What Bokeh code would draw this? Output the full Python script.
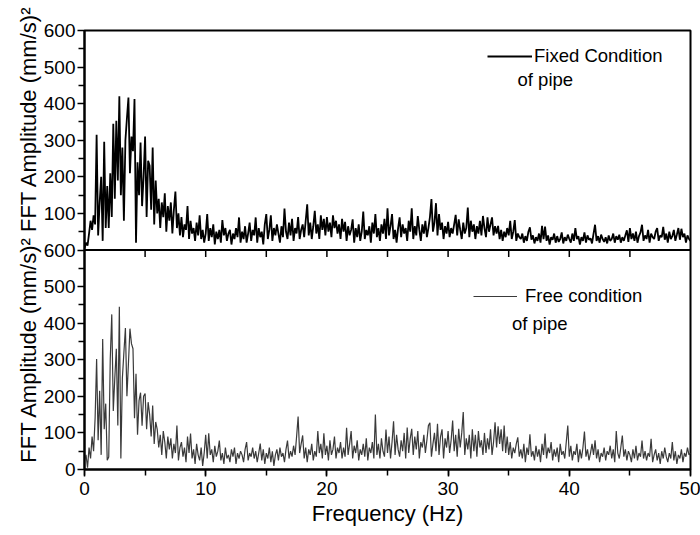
import math
from bokeh.plotting import figure
from bokeh.models import (Range1d, FixedTicker, SingleIntervalTicker, Label, Legend,
                          LegendItem, Span)
from bokeh.embed import file_html
from bokeh.resources import INLINE

# ---------------- data ----------------
FREQ_STEP = 0.125  # Hz between FFT bins

# FFT amplitude, fixed condition of pipe (one row = 1 Hz)
fixed_amp = [
    5, 20, 12, 45, 80, 55, 95, 70,
    315, 40, 130, 200, 25, 296, 60, 175,
    60, 210, 90, 345, 140, 353, 190, 420,
    150, 280, 80, 300, 360, 417, 210, 310,
    270, 413, 20, 240, 150, 294, 120, 200,
    310, 90, 244, 230, 110, 280, 70, 190,
    100, 140, 60, 130, 90, 155, 50, 120,
    80, 130, 45, 110, 160, 60, 100, 40,
    90, 35, 70, 55, 120, 30, 80, 45,
    60, 25, 75, 40, 95, 30, 55, 20,
    45, 98, 25, 60, 35, 70, 15, 50,
    30, 55, 20, 82, 40, 60, 25, 45,
    55, 15, 45, 30, 60, 35, 89, 20,
    50, 30, 65, 20, 45, 75, 25, 55,
    40, 89, 20, 60, 35, 50, 15, 70,
    98, 30, 55, 95, 25, 60, 40, 70,
    45, 20, 65, 35, 113, 50, 30, 75,
    40, 85, 25, 60, 45, 90, 30, 55,
    70, 35, 80, 125, 40, 75, 30, 65,
    107, 45, 70, 30, 95, 55, 85, 40,
    90, 50, 75, 35, 95, 60, 80, 45,
    70, 30, 85, 50, 77, 25, 65, 40,
    55, 84, 20, 60, 35, 70, 25, 50,
    105, 30, 55, 40, 65, 20, 75, 45,
    98, 35, 60, 25, 70, 45, 85, 30,
    114, 40, 65, 98, 30, 55, 20, 60,
    89, 35, 70, 45, 60, 25, 80, 50,
    114, 30, 65, 40, 93, 55, 25, 70,
    45, 80, 35, 60, 90, 139, 50, 75,
    128, 40, 98, 55, 75, 30, 65, 45,
    77, 35, 60, 45, 70, 96, 40, 84,
    55, 30, 75, 45, 60, 116, 35, 80,
    50, 70, 30, 65, 45, 80, 40, 93,
    60, 35, 89, 50, 70, 89, 40, 65,
    45, 66, 30, 55, 25, 50, 35, 60,
    40, 80, 30, 50, 82, 25, 45, 35,
    30, 45, 20, 38, 25, 50, 62, 28,
    40, 18, 35, 25, 45, 20, 66, 30,
    64, 25, 40, 15, 35, 28, 45, 20,
    38, 22, 30, 48, 18, 35, 25, 42,
    30, 20, 45, 25, 60, 30, 38, 15,
    35, 25, 48, 20, 40, 28, 32, 18,
    45, 69, 25, 38, 20, 42, 30, 22,
    35, 18, 40, 25, 30, 45, 20, 38,
    28, 42, 20, 35, 25, 40, 54, 22,
    60, 30, 45, 25, 50, 20, 38, 48,
    69, 25, 40, 30, 55, 20, 45, 35,
    30, 50, 60, 25, 40, 35, 63, 28,
    45, 20, 50, 30, 38, 55, 25, 42,
    60, 28, 58, 35, 45, 20, 40, 30,
    25,
]

# FFT amplitude, free condition of pipe (one row = 1 Hz)
free_amp = [
    25, 40, 5, 60, 30, 90, 50, 140,
    302, 80, 215, 40, 357, 110, 180, 25,
    34, 302, 424, 160, 250, 330, 120, 445,
    30, 250, 320, 387, 200, 290, 385, 344,
    330, 140, 262, 95, 188, 210, 120, 200,
    208, 110, 184, 150, 90, 175, 70, 130,
    110, 60, 95, 40, 105, 75, 30, 90,
    55, 85, 30, 70, 45, 120, 25, 60,
    75, 35, 60, 20, 90, 45, 98, 30,
    55, 15, 70, 40, 25, 60, 10, 45,
    95, 30, 99, 40, 55, 20, 65, 35,
    50, 79, 25, 45, 15, 60, 30, 40,
    20, 55, 35, 60, 15, 45, 30, 50,
    40, 20, 55, 75, 25, 45, 35, 60,
    30, 50, 20, 45, 71, 25, 55, 15,
    45, 30, 60, 20, 50, 10, 40, 55,
    25, 60, 35, 45, 20, 55, 79, 30,
    50, 35, 65, 40, 90, 145, 45, 70,
    93, 30, 60, 20, 55, 40, 70, 25,
    50, 35, 105, 45, 70, 30, 99, 40,
    65, 25, 80, 40, 55, 90, 30, 60,
    45, 75, 30, 60, 35, 114, 40, 70,
    105, 30, 65, 45, 80, 25, 55, 40,
    70, 35, 85, 25, 60, 45, 75, 30,
    150, 40, 70, 30, 85, 50, 35, 109,
    45, 90, 30, 75, 132, 40, 95, 55,
    35, 80, 50, 100, 30, 115, 45, 85,
    111, 40, 90, 55, 105, 30, 75, 60,
    95, 45, 80, 120, 128, 35, 70, 100,
    50, 125, 40, 90, 110, 30, 85, 60,
    105, 45, 80, 134, 50, 95, 35, 111,
    60, 100, 157, 40, 85, 55, 95, 30,
    110, 50, 95, 35, 105, 60, 80, 40,
    100, 45, 85, 55, 110, 40, 75, 129,
    60, 118, 70, 110, 50, 120, 45, 90,
    40, 75, 30, 60, 45, 70, 88, 35,
    55, 30, 70, 20, 60, 40, 96, 35,
    50, 25, 65, 35, 55, 20, 70, 40,
    98, 30, 60, 45, 75, 25, 55, 35,
    60, 20, 70, 40, 50, 30, 75, 120,
    35, 65, 25, 50, 40, 70, 20, 55,
    30, 60, 104, 35, 55, 25, 45, 70,
    40, 80, 30, 55, 20, 45, 35, 60,
    25, 50, 40, 65, 30, 55, 20, 105,
    45, 30, 60, 93, 35, 55, 25, 50,
    40, 20, 55, 30, 65, 25, 45, 35,
    79, 30, 50, 25, 45, 35, 84, 20,
    40, 55, 25, 45, 15, 50, 30, 60,
    35, 20, 45, 30, 75, 25, 50, 15,
    40, 30, 55, 20, 45, 35, 60, 40,
    45,
]

freq = [i * FREQ_STEP for i in range(len(fixed_amp))]

PANEL_TICKS = [0, 100, 200, 300, 400, 500, 600]
PANEL_TICK_LABELS = ["0", "100", "200", "300", "400", "500", "600"]
X_TICK_STEP = 10
X_MINOR_STEP = 5
Y_LABEL = "FFT Amplitude (mm/s)\u00b2"
X_LABEL = "Frequency (Hz)"
LEGEND_FIXED = ("Fixed Condition", "of pipe")
LEGEND_FREE = ("Free condition", "of pipe")

# ---------------- figure ----------------
FONT = "Liberation Sans"
PANEL_SPAN = PANEL_TICKS[-1]
PX_PER_Y = 439.0 / (2 * PANEL_SPAN)

p = figure(width=700, height=535, output_backend="svg", toolbar_location=None,
           x_range=Range1d(0, 50), y_range=Range1d(0, 2 * PANEL_SPAN),
           min_border_left=84, min_border_right=10, min_border_top=30,
           min_border_bottom=66)
p.extra_y_ranges = {"top": Range1d(-PANEL_SPAN, PANEL_SPAN)}
p.xgrid.visible = False
p.ygrid.visible = False
p.outline_line_color = "black"
p.outline_line_width = 2
p.background_fill_color = "white"
p.border_fill_color = "white"

r_free = p.line(freq, free_amp, line_color="#3a3a3a", line_width=1.2)
r_fixed = p.line(freq, fixed_amp, line_color="black", line_width=1.8,
                 y_range_name="top")

# y axis: two stacked 0..600 panels sharing one left axis
ticks = PANEL_TICKS + [t + PANEL_SPAN for t in PANEL_TICKS[1:]]
labels = PANEL_TICK_LABELS + PANEL_TICK_LABELS[1:]
minor = [t + 50 for t in ticks[:-1]]
ya = p.yaxis[0]
ya.ticker = FixedTicker(ticks=ticks, minor_ticks=minor)
ya.major_label_overrides = {t: l for t, l in zip(ticks, labels)}

xa = p.xaxis[0]
xa.ticker = SingleIntervalTicker(interval=X_TICK_STEP, num_minor_ticks=2)

for ax in (xa, ya):
    ax.axis_line_width = 2
    ax.major_tick_line_width = 1.5
    ax.minor_tick_line_width = 1.5
    ax.major_tick_out = 7
    ax.major_tick_in = 0
    ax.minor_tick_out = 6
    ax.minor_tick_in = 0
    ax.major_label_text_font = FONT
    ax.major_label_text_font_size = "19px"
    ax.major_label_text_color = "black"
    ax.axis_label_text_font = FONT
    ax.axis_label_text_font_size = "22px"
    ax.axis_label_text_font_style = "normal"
    ax.axis_label_text_color = "black"
ya.major_label_standoff = 2
xa.major_label_standoff = 5

# axis titles: one per panel on the shared left axis (lower panel first,
# read bottom-to-top), and the frequency title below
ya.axis_label = "\u2003\u2002" + Y_LABEL + " " + Y_LABEL
ya.axis_label_standoff = 0
xa.axis_label = X_LABEL
xa.axis_label_standoff = 3

# divider between the panels (bottom axis of the upper panel)
p.add_layout(Span(location=PANEL_SPAN, dimension="width", line_color="black",
                  line_width=2))
mid_ticks = [t for t in range(X_MINOR_STEP, 50, X_MINOR_STEP)]
tick_len = 7 / PX_PER_Y
p.segment(x0=mid_ticks, y0=[PANEL_SPAN] * len(mid_ticks), x1=mid_ticks,
          y1=[PANEL_SPAN - tick_len] * len(mid_ticks), line_color="black",
          line_width=1.5)

# legends
def make_legend(label, renderer, loc, glyph_w, standoff):
    lg = Legend(items=[LegendItem(label=label, renderers=[renderer])],
                location=loc, padding=0, margin=0, spacing=0,
                glyph_width=glyph_w, glyph_height=20, label_height=20,
                label_standoff=standoff, border_line_alpha=0,
                background_fill_alpha=0, label_text_font=FONT,
                label_text_font_size="18.5px", label_text_color="black")
    p.add_layout(lg)

make_legend(LEGEND_FIXED[0], r_fixed, (403, 402), 45, 2)
make_legend(LEGEND_FREE[0], r_free, (389, 162), 44, 8)
p.add_layout(Label(x=35.73, y=(469 - 79) / PX_PER_Y, text=LEGEND_FIXED[1],
                   text_font=FONT, text_font_size="18.5px", text_color="black",
                   text_align="left", text_baseline="alphabetic"))
p.add_layout(Label(x=35.27, y=(469 - 322.5) / PX_PER_Y, text=LEGEND_FREE[1],
                   text_font=FONT, text_font_size="18.5px", text_color="black",
                   text_align="left", text_baseline="alphabetic"))

open("out.html", "w").write(file_html(p, INLINE))
